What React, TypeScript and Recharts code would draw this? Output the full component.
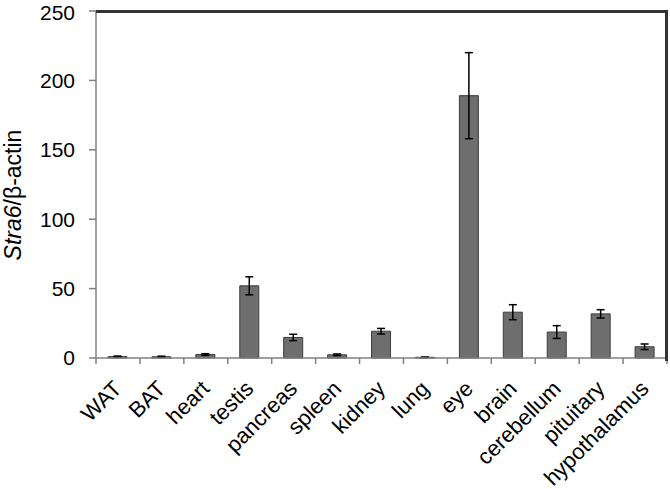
import { BarChart, Bar, XAxis, YAxis, ErrorBar } from 'recharts'

const categories = ['WAT', 'BAT', 'heart', 'testis', 'pancreas', 'spleen', 'kidney', 'lung', 'eye', 'brain', 'cerebellum', 'pituitary', 'hypothalamus']
const values = [1.0, 0.9, 2.5, 52, 14.8, 2.3, 19.3, 0.5, 189, 33, 18.7, 31.8, 8.1]
const errors = [0.4, 0.4, 0.6, 6.5, 2.3, 0.6, 2, 0.2, 31, 5.4, 4.6, 3, 2]
const yTicks = [0, 50, 100, 150, 200, 250]

const data = categories.map((name, i) => ({ name, value: values[i], err: errors[i] }))

const W = 670
const H = 489
const TOP = 11
const X_AXIS_H = 131
const Y_AXIS_W = 96
const RIGHT = 3
const PLOT_RIGHT = W - RIGHT
const PLOT_BOTTOM = H - X_AXIS_H
const BAND = (PLOT_RIGHT - Y_AXIS_W) / categories.length
const FONT = '"Liberation Sans", Arial, sans-serif'

function CategoryTick(props: any) {
  const { x, y, payload, index } = props
  const half = BAND / 2
  const tx = x + 5
  const ty = y + 32
  return (
    <g>
      <line x1={x - half} y1={y} x2={x - half} y2={y + 6} stroke="#808080" strokeWidth={1.5} />
      {index === categories.length - 1 && (
        <line x1={x + half} y1={y} x2={x + half} y2={y + 6} stroke="#808080" strokeWidth={1.5} />
      )}
      <text
        x={tx}
        y={ty}
        transform={`rotate(-45, ${tx}, ${ty})`}
        textAnchor="end"
        fontSize={22}
        fontFamily={FONT}
        fill="#000"
      >
        {payload.value}
      </text>
    </g>
  )
}

function YLabel() {
  const x = 21
  const y = 195
  return (
    <text
      x={x}
      y={y}
      transform={`rotate(-90, ${x}, ${y})`}
      textAnchor="middle"
      fontSize={23}
      fontFamily={FONT}
      fill="#000"
    >
      <tspan fontStyle="italic">Stra6</tspan>
      <tspan>/β-actin</tspan>
    </text>
  )
}

export default function App() {
  return (
    <div style={{ position: 'absolute', left: 0, top: 0, width: W, height: H, background: '#fff' }}>
      <BarChart width={W} height={H} data={data} margin={{ top: TOP, right: RIGHT, left: 0, bottom: 0 }} barSize={19}>
        <XAxis
          dataKey="name"
          interval={0}
          height={X_AXIS_H}
          tickSize={0}
          tickMargin={0}
          tickLine={false}
          axisLine={{ stroke: '#808080', strokeWidth: 1.5 }}
          tick={<CategoryTick />}
        />
        <YAxis
          domain={[0, 250]}
          ticks={yTicks}
          width={Y_AXIS_W}
          tickSize={7}
          tickMargin={14}
          axisLine={{ stroke: '#808080', strokeWidth: 1.5 }}
          tickLine={{ stroke: '#808080', strokeWidth: 1.5 }}
          tick={{ fontSize: 21, fontFamily: FONT, fill: '#000' }}
          label={<YLabel />}
        />
        <Bar dataKey="value" fill="#6e6e6e" stroke="#3c3c3c" strokeWidth={1} isAnimationActive={false}>
          <ErrorBar dataKey="err" width={4} stroke="#000" strokeWidth={1.5} direction="y" />
        </Bar>
      </BarChart>
      {/* top and right frame of the plot area */}
      <div
        style={{
          position: 'absolute',
          left: Y_AXIS_W,
          top: TOP - 1,
          width: PLOT_RIGHT - Y_AXIS_W - 2,
          height: PLOT_BOTTOM - TOP + 1,
          borderTop: '3px solid #333',
          borderRight: '3px solid #333',
          pointerEvents: 'none',
        }}
      />
    </div>
  )
}
